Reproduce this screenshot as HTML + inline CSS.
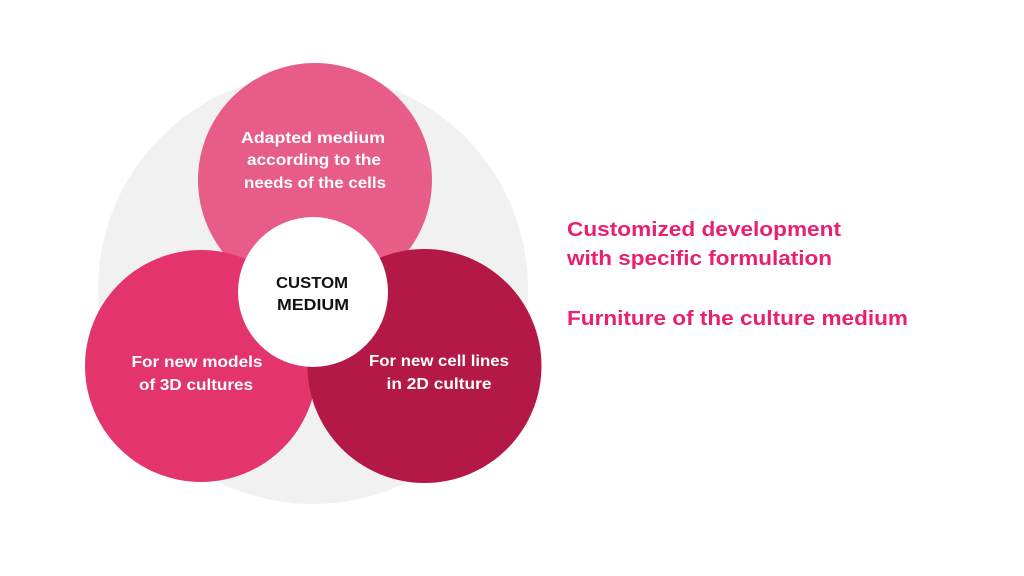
<!DOCTYPE html>
<html><head><style>
html,body{margin:0;padding:0;background:#fff;width:1024px;height:576px;overflow:hidden}
text{font-family:"Liberation Sans",sans-serif;font-weight:bold}
</style></head><body>
<svg width="1024" height="576" viewBox="0 0 1024 576" xmlns="http://www.w3.org/2000/svg">
<circle cx="313" cy="289" r="215" fill="#f1f1f1"/>
<circle cx="315" cy="180" r="117" fill="#e85d87"/>
<circle cx="201" cy="366" r="116" fill="#e3356b"/>
<circle cx="424.5" cy="366" r="117" fill="#b41847"/>
<circle cx="313" cy="292" r="75" fill="#fff"/>
<g fill="#fff" font-size="15.5" text-anchor="middle">
<text x="313" y="143" textLength="144" lengthAdjust="spacingAndGlyphs">Adapted medium</text>
<text x="314" y="165" textLength="134" lengthAdjust="spacingAndGlyphs">according to the</text>
<text x="315" y="188" textLength="142" lengthAdjust="spacingAndGlyphs">needs of the cells</text>
<text x="197" y="367" textLength="131" lengthAdjust="spacingAndGlyphs">For new models</text>
<text x="196" y="390" textLength="114" lengthAdjust="spacingAndGlyphs">of 3D cultures</text>
<text x="439" y="366" textLength="140" lengthAdjust="spacingAndGlyphs">For new cell lines</text>
<text x="439" y="389" textLength="105" lengthAdjust="spacingAndGlyphs">in 2D culture</text>
</g>
<g fill="#111" font-size="15.5" text-anchor="middle">
<text x="312" y="288" textLength="72" lengthAdjust="spacingAndGlyphs">CUSTOM</text>
<text x="313" y="310" textLength="72" lengthAdjust="spacingAndGlyphs">MEDIUM</text>
</g>
<g fill="#e8206f" font-size="20">
<text x="567" y="236" textLength="274" lengthAdjust="spacingAndGlyphs">Customized development</text>
<text x="567" y="265" textLength="265" lengthAdjust="spacingAndGlyphs">with specific formulation</text>
<text x="567" y="325" textLength="341" lengthAdjust="spacingAndGlyphs">Furniture of the culture medium</text>
</g>
</svg>
</body></html>
